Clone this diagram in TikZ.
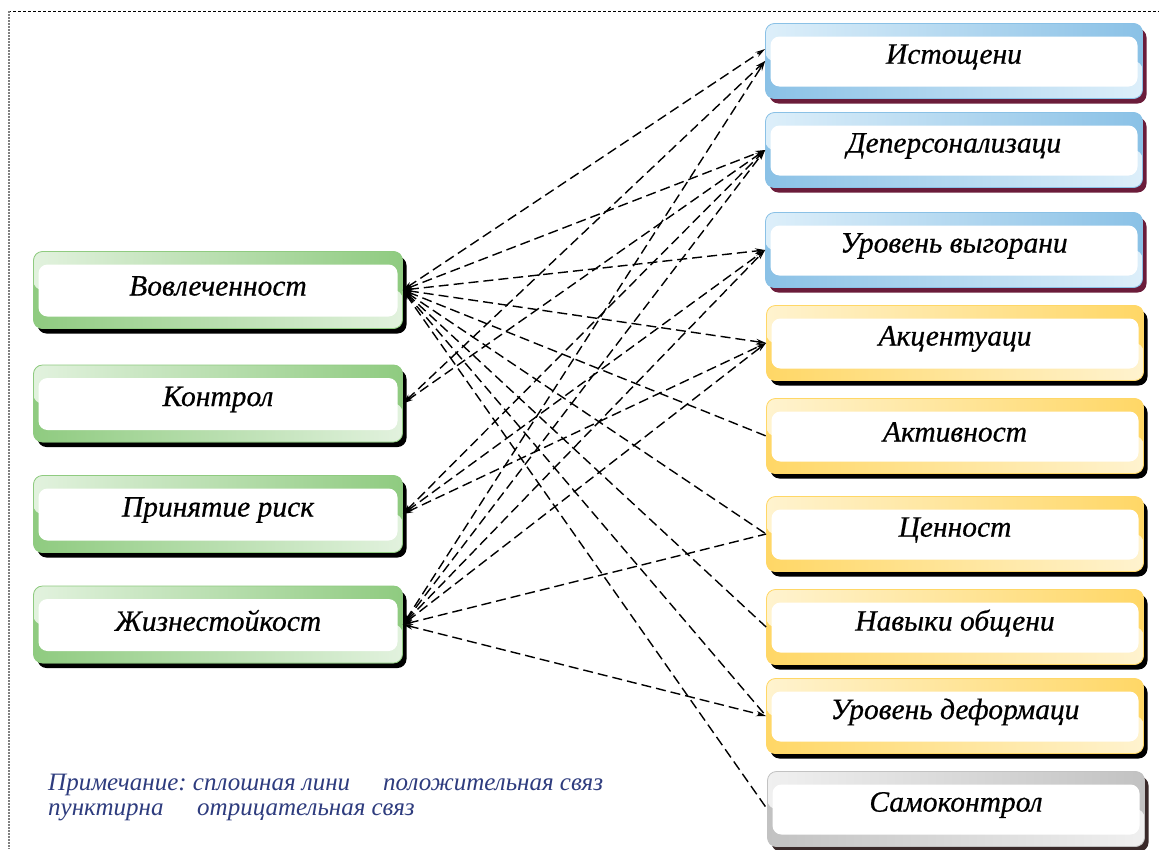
\documentclass[tikz,border=0pt]{standalone}
\usepackage{fontspec}
\setmainfont{Liberation Serif}
\newfontfamily\boxfont{Liberation Serif}[FakeBold=0.6]
\usetikzlibrary{arrows.meta,shadows}
\frenchspacing
\definecolor{gl}{HTML}{E2F2DE}
\definecolor{gd}{HTML}{8FCB80}
\definecolor{bl}{HTML}{DDEFFA}
\definecolor{bd}{HTML}{8AC1E6}
\definecolor{bsh}{HTML}{6B1C3A}
\definecolor{yl}{HTML}{FFF3CF}
\definecolor{yd}{HTML}{FFD766}
\definecolor{sl}{HTML}{F0F0F0}
\definecolor{sd}{HTML}{C2C2C2}
\definecolor{ssh}{HTML}{3A2A2A}
\definecolor{notec}{HTML}{2E3C7E}
\newcommand\bxt[1]{\raisebox{4pt}[\height][\depth]{#1}}
\tikzset{
  box/.style n args={3}{rectangle, rounded corners=9pt, inner sep=0pt,
    draw=#2, line width=0.8pt, fill=#2,
    drop shadow={shadow xshift=4pt, shadow yshift=-5pt, fill=#3, opacity=1},
    path picture={
      \fill[left color=#1, right color=#2] (path picture bounding box.north west) rectangle (path picture bounding box.east);
      \fill[left color=#2, right color=#1] (path picture bounding box.west) rectangle (path picture bounding box.south east);
      \fill[white] ([xshift=5pt,yshift=-13pt]path picture bounding box.north west) rectangle ([xshift=-5pt,yshift=12pt]path picture bounding box.south east);
    },
    font=\boxfont\fontsize{29.5}{33}\selectfont\itshape, text=black},
  lbox/.style={box={gl}{gd}{black}, minimum width=369pt, minimum height=77pt},
  bbox/.style={box={bl}{bd}{bsh}, minimum width=377pt, minimum height=75pt},
  ybox/.style={box={yl}{yd}{black}, minimum width=377pt, minimum height=75pt},
  sbox/.style={box={sl}{sd}{ssh}, minimum width=377pt, minimum height=75pt},
  conn/.style={line width=1.4pt, dash pattern=on 10pt off 5pt, black},
  >={Stealth[length=10pt,width=5.5pt]},
  note/.style={anchor=base west, inner sep=0pt, text=notec, font=\fontsize{25}{28}\selectfont\itshape}
}
\begin{document}
\begin{tikzpicture}[x=1pt,y=-1pt]
\useasboundingbox (0,0) rectangle (1159,849);
\fill[white] (0,0) rectangle (1159,849);
% frame
\draw[line width=0.7pt, dash pattern=on 3pt off 2pt] (8,11) -- (1159,11);
\draw[gray, line width=1.2pt, dash pattern=on 2pt off 1pt] (9,11) -- (9,849);
% left boxes
\node[lbox] (L1) at (218,290) {\bxt{Вовлеченност}};
\node[lbox] (L2) at (218,403.5) {\bxt{Контрол}};
\node[lbox] (L3) at (218,514) {\bxt{Принятие риск}};
\node[lbox] (L4) at (218,624.5) {\bxt{Жизнестойкост}};
% right boxes
\node[bbox] (R1) at (954,61) {\bxt{Истощени}};
\node[bbox] (R2) at (954,150) {\bxt{Деперсонализаци}};
\node[bbox] (R3) at (954,250) {\bxt{Уровень выгорани}};
\node[ybox] (R4) at (955,343) {\bxt{Акцентуаци}};
\node[ybox] (R5) at (955,436) {\bxt{Активност}};
\node[ybox] (R6) at (955,534) {\bxt{Ценност}};
\node[ybox] (R7) at (955,627) {\bxt{Навыки общени}};
\node[ybox] (R8) at (955,716) {\bxt{Уровень деформаци}};
\node[sbox] (R9) at (956,809) {\bxt{Самоконтрол}};
% connectors
\draw[conn,<->] (L1.east) -- ([yshift=12pt]R1.west);
\draw[conn,<->] (L1.east) -- (R2.west);
\draw[conn,<->] (L1.east) -- (R3.west);
\draw[conn,<->] (L1.east) -- (R4.west);
\draw[conn,<-] (L1.east) -- (R5.west);
\draw[conn,<-] (L1.east) -- (R6.west);
\draw[conn,<-] (L1.east) -- (R7.west);
\draw[conn,<-] (L1.east) -- (R8.west);
\draw[conn,<-] (L1.east) -- (R9.west);
\draw[conn,<->] (L2.east) -- (R1.west);
\draw[conn,<->] (L2.east) -- (R2.west);
\draw[conn,<->] (L3.east) -- (R2.west);
\draw[conn,<->] (L3.east) -- (R3.west);
\draw[conn,<->] (L3.east) -- (R4.west);
\draw[conn,<->] (L4.east) -- (R1.west);
\draw[conn,<->] (L4.east) -- (R2.west);
\draw[conn,<->] (L4.east) -- (R3.west);
\draw[conn,<->] (L4.east) -- (R4.west);
\draw[conn,<-] (L4.east) -- (R6.west);
\draw[conn,<->] (L4.east) -- (R8.west);
% note
\node[note] (n1a) at (48,790) {Примечание: сплошная лини};
\node[note] (n1b) at (383,790) {положительная связ};
\node[note] (n2a) at (48,815) {пунктирна};
\node[note] (n2b) at (197,815) {отрицательная связ};
\end{tikzpicture}
\end{document}
